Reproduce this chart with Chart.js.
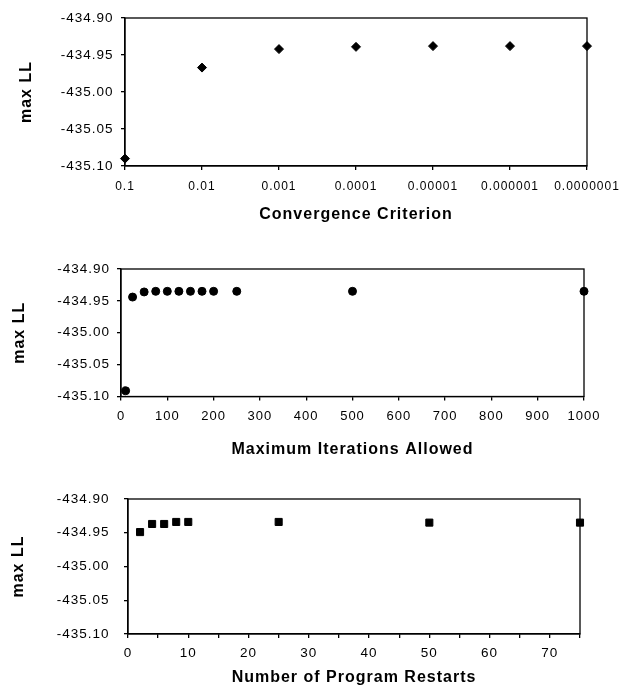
<!DOCTYPE html>
<html>
<head>
<meta charset="utf-8">
<script src="https://cdn.jsdelivr.net/npm/chart.js@4.4.0/dist/chart.umd.min.js"></script>
<style>
  html, body { margin: 0; padding: 0; background: #fff; }
  #wrap { position: relative; width: 630px; height: 687px; }
  .box { position: absolute; left: 0; width: 630px; }
</style>
</head>
<body>
<div id="wrap">
  <div class="box" style="top:0;height:230px"><canvas id="chart1"></canvas></div>
  <div class="box" style="top:230px;height:230px"><canvas id="chart2"></canvas></div>
  <div class="box" style="top:460px;height:227px"><canvas id="chart3"></canvas></div>
</div>
<script>
// values
const criterionLabels = ['0.1', '0.01', '0.001', '0.0001', '0.00001', '0.000001', '0.0000001'];
const criterionLL = [-435.090, -434.967, -434.942, -434.939, -434.938, -434.938, -434.938];

const iterations = [10, 25, 50, 75, 100, 125, 150, 175, 200, 250, 500, 1000];
const iterationsLL = [-435.091, -434.944, -434.936, -434.935, -434.935, -434.935, -434.935, -434.935, -434.935, -434.935, -434.935, -434.935];
const iterationTicks = [0, 100, 200, 300, 400, 500, 600, 700, 800, 900, 1000];

const restarts = [2, 4, 6, 8, 10, 25, 50, 75];
const restartsLL = [-434.949, -434.937, -434.937, -434.934, -434.934, -434.934, -434.935, -434.935];
const restartTicks = [0, 10, 20, 30, 40, 50, 60, 70];

const yTicks = [-435.10, -435.05, -435.00, -434.95, -434.90];

Chart.defaults.font.family = '"Liberation Sans", Arial, sans-serif';
Chart.defaults.color = '#000';

// box round the plot + the wide letter spacing of the scan
const framePlugin = {
    id: 'frame',
    beforeUpdate(chart) { chart.ctx.letterSpacing = '1px'; },
    beforeDraw(chart) { chart.ctx.letterSpacing = '1px'; },
    beforeDatasetsDraw(chart) {
        const { ctx, chartArea: a } = chart;
        ctx.save();
        ctx.strokeStyle = '#000';
        ctx.lineWidth = 1.3;
        ctx.strokeRect(a.left, a.top, a.right - a.left, a.bottom - a.top);
        ctx.restore();
    }
};

function yAxis(plotLeft, tickPad, titlePad) {
    return {
        min: yTicks[0],
        max: yTicks[yTicks.length - 1],
        ticks: { stepSize: 0.05, font: { size: 13.5 }, padding: tickPad, callback: v => v.toFixed(2) },
        grid: { drawOnChartArea: false, color: '#000', tickLength: 4, lineWidth: 1.3 },
        border: { color: '#000', width: 1.3 },
        title: { display: true, text: 'max LL', font: { size: 16, weight: 'bold' }, padding: { top: titlePad } },
        afterFit(s) { s.width = plotLeft; s.paddingTop = 0; s.paddingBottom = 0; }
    };
}

function xAxis(extra, tickExtra, axisHeight, fontSize, tickPad, title, titlePad) {
    return Object.assign({
        ticks: Object.assign({ font: { size: fontSize }, padding: tickPad, autoSkip: false, maxRotation: 0 }, tickExtra),
        grid: { drawOnChartArea: false, color: '#000', tickLength: 4, lineWidth: 1.3 },
        border: { color: '#000', width: 1.3 },
        title: { display: true, text: title, font: { size: 16, weight: 'bold' }, padding: { top: 0, bottom: titlePad } },
        afterFit(s) { s.height = axisHeight; s.paddingLeft = 0; s.paddingRight = 0; }
    }, extra);
}

const common = {
    responsive: true,
    maintainAspectRatio: false,
    animation: false,
    plugins: { legend: { display: false }, tooltip: { enabled: false } }
};

// 1. convergence criterion
new Chart(document.getElementById('chart1'), {
    type: 'line',
    data: {
        labels: criterionLabels,
        datasets: [{
            data: criterionLL,
            showLine: false,
            pointStyle: 'rectRot',
            pointRadius: 4.5,
            backgroundColor: '#000',
            borderColor: '#000',
            clip: false
        }]
    },
    options: Object.assign({}, common, {
        layout: { padding: { top: 18, right: 43, bottom: 0, left: 0 } },
        scales: {
            x: xAxis({ type: 'category', offset: false }, {}, 64, 12, 9.5, 'Convergence Criterion', 5.5),
            y: yAxis(125, 7.5, 17)
        }
    }),
    plugins: [framePlugin]
});

// 2. maximum iterations
new Chart(document.getElementById('chart2'), {
    type: 'scatter',
    data: {
        datasets: [{
            data: iterations.map((x, i) => ({ x: x, y: iterationsLL[i] })),
            pointStyle: 'circle',
            pointRadius: 4,
            backgroundColor: '#000',
            borderColor: '#000',
            clip: false
        }]
    },
    options: Object.assign({}, common, {
        layout: { padding: { top: 39, right: 46, bottom: 0, left: 0 } },
        scales: {
            x: xAxis({
                type: 'linear',
                min: iterationTicks[0],
                max: iterationTicks[iterationTicks.length - 1]
            }, {
                stepSize: 100,
                callback: v => iterationTicks.includes(v) ? String(v) : ''
            }, 63.5, 13, 8, 'Maximum Iterations Allowed', 0.5),
            y: yAxis(121, 7, 9.5)
        }
    }),
    plugins: [framePlugin]
});

// 3. program restarts
new Chart(document.getElementById('chart3'), {
    type: 'scatter',
    data: {
        datasets: [{
            data: restarts.map((x, i) => ({ x: x, y: restartsLL[i] })),
            pointStyle: 'rect',
            pointRadius: 5,
            backgroundColor: '#000',
            borderColor: '#000',
            clip: false
        }]
    },
    options: Object.assign({}, common, {
        layout: { padding: { top: 39, right: 50, bottom: 0, left: 0 } },
        scales: {
            x: xAxis({ type: 'linear', min: 0, max: 75 }, {
                stepSize: 5,
                callback: v => restartTicks.includes(v) ? String(v) : ''
            }, 53, 13.5, 7.5, 'Number of Program Restarts', 0),
            y: yAxis(128, 14.5, 9)
        }
    }),
    plugins: [framePlugin]
});
</script>
</body>
</html>
